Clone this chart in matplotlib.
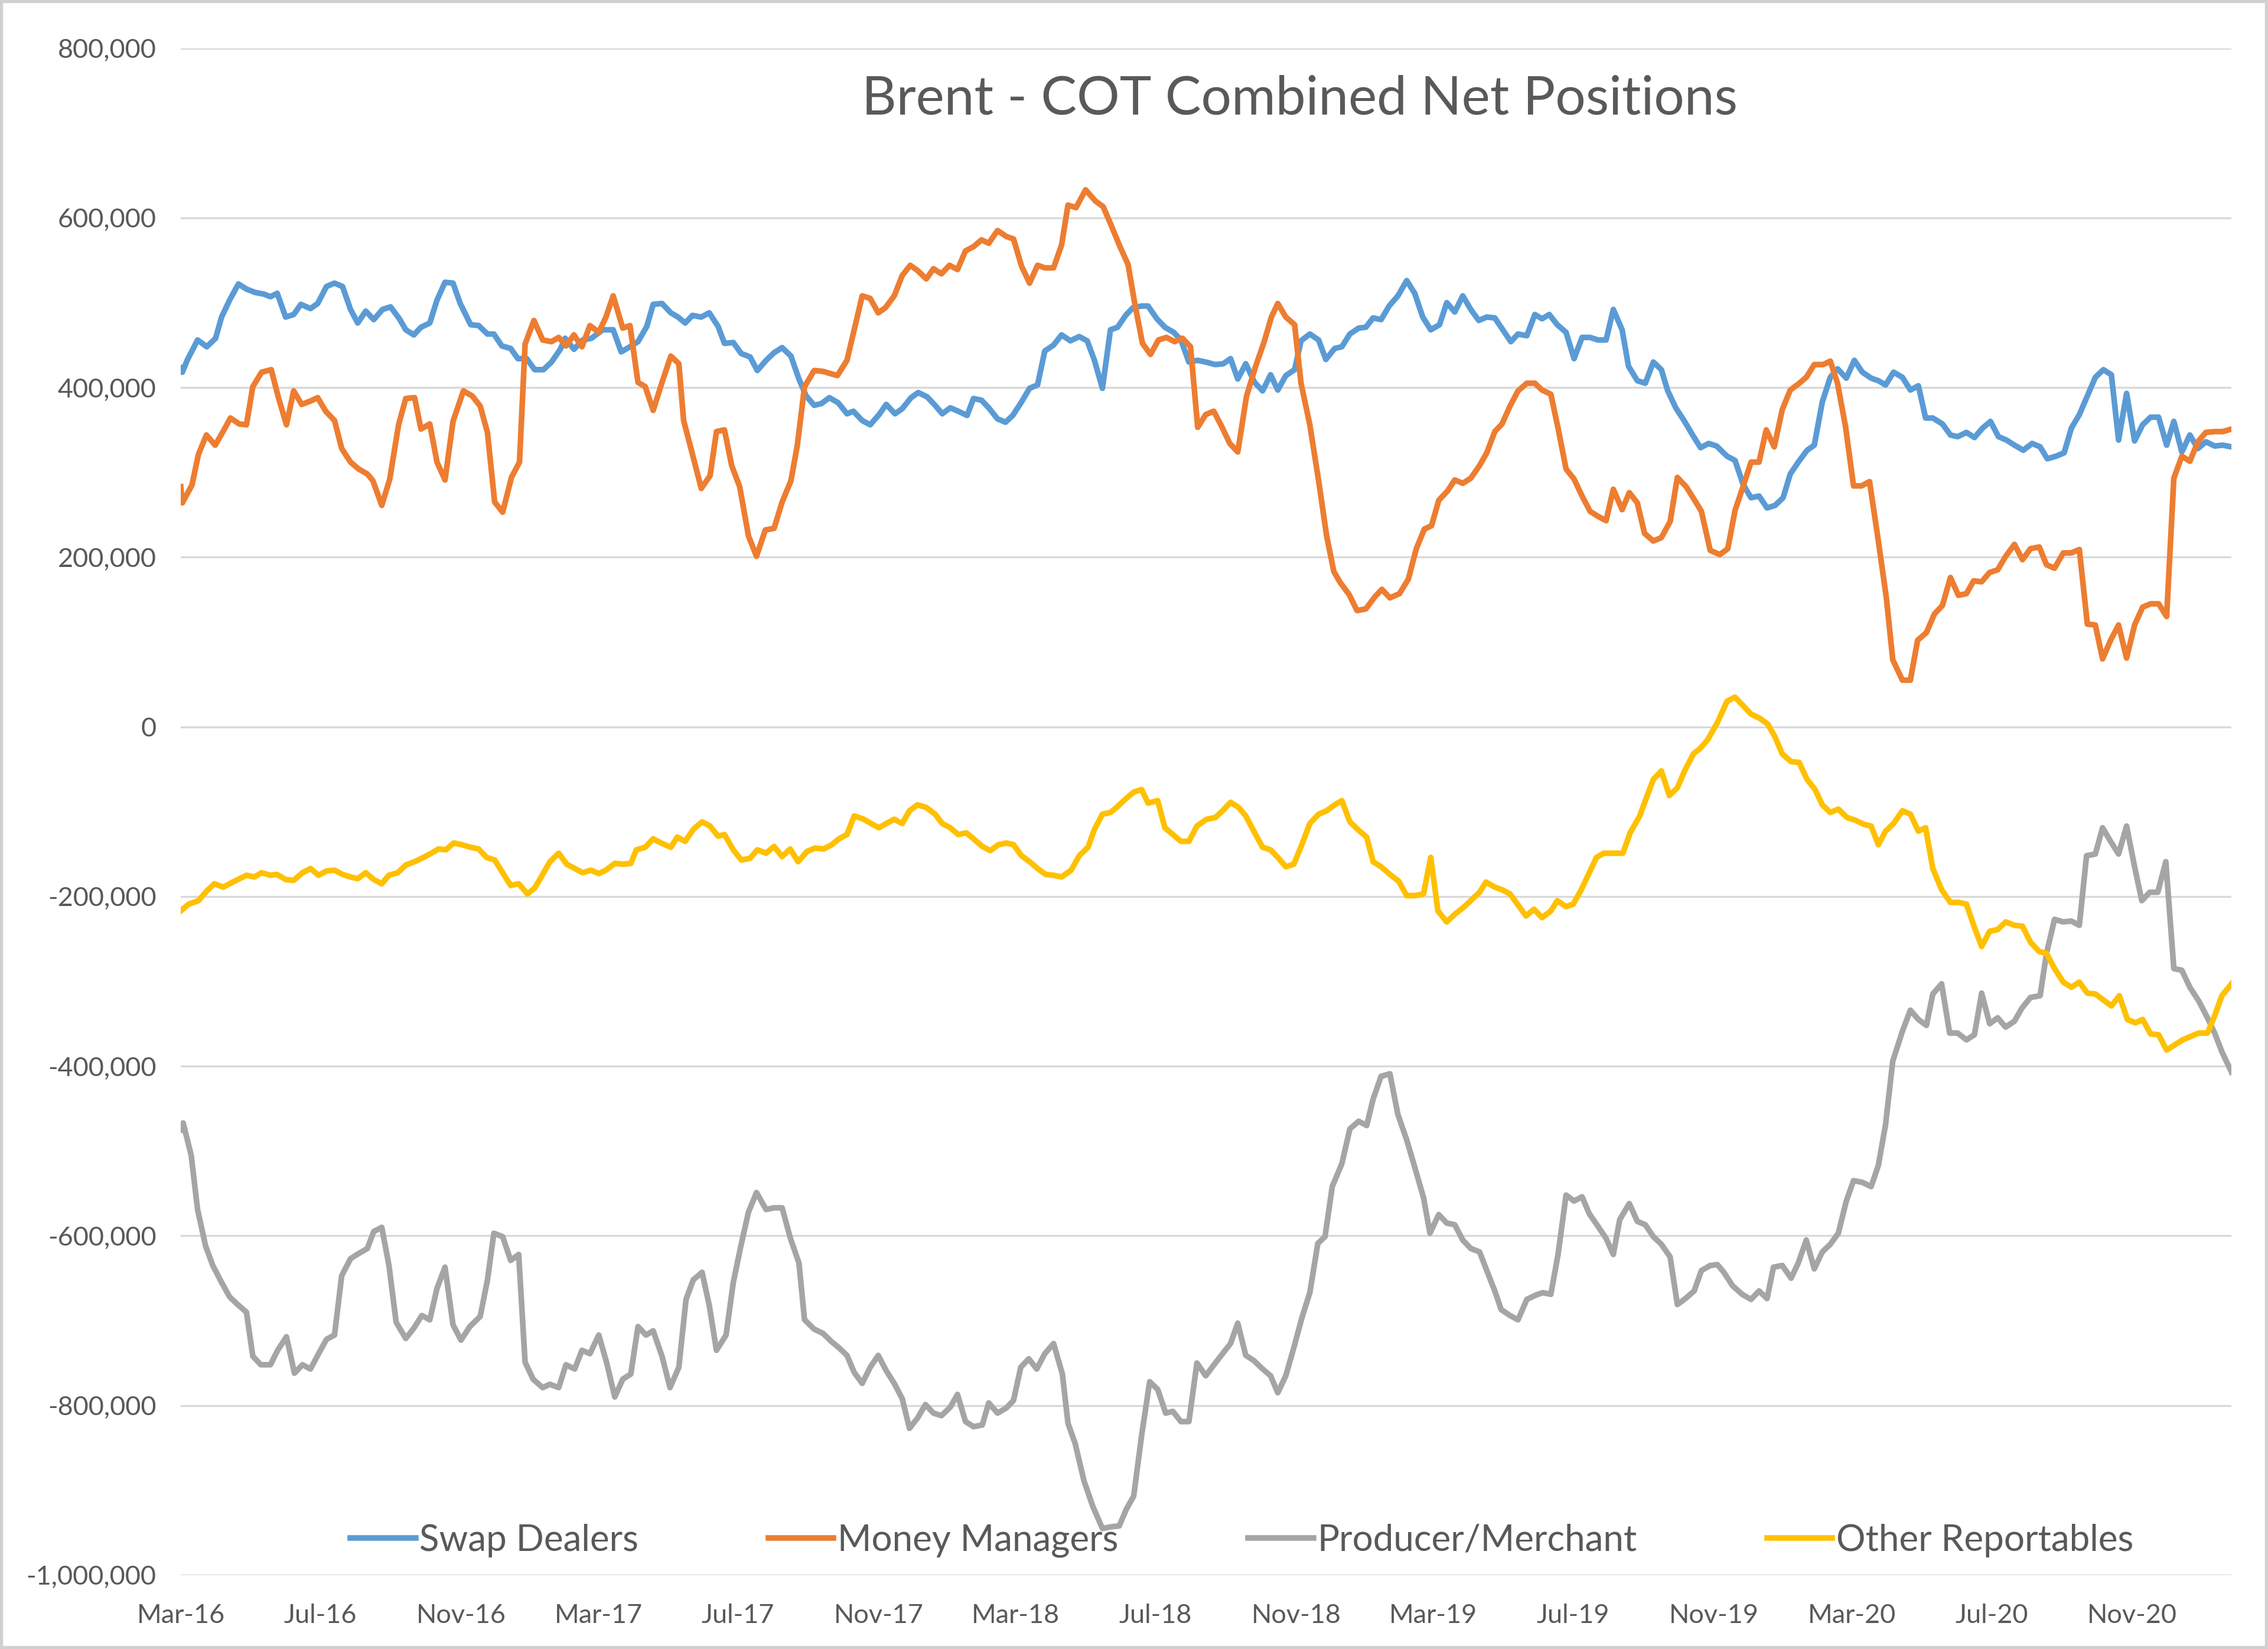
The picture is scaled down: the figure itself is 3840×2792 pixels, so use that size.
from datetime import datetime
import numpy as np
import matplotlib
matplotlib.use("Agg")
import matplotlib.pyplot as plt
import matplotlib.dates as mdates
from matplotlib.ticker import FuncFormatter, MultipleLocator
from matplotlib.patches import Rectangle

plt.rcParams['font.family'] = ['Lato', 'DejaVu Sans']

# weekly COT data, first report 1 Mar 2016; x = weeks since then, y = contracts (thousands)
start = datetime(2016, 3, 1)

swap_wk = [0, 0.2, 0.8, 2.1, 3.25, 4.35, 5.1, 6.1, 7.2, 8.2, 9.3, 10.4, 11.2, 12.05, 13.1, 14.1, 15.0, 16.2, 17.1, 18.2,
           19.2, 20.2, 21.2, 22.1, 23.1, 24.1, 25.2, 26.2, 27.3, 28.1, 29.1, 30.0, 31.1, 32.0, 33.0, 34.0, 34.9, 36.2,
           37.2, 38.3, 39.1, 40.1, 41.2, 42.1, 43.2, 44.2, 45.3, 46.3, 47.4, 48.0, 49.1, 50.2, 51.3, 52.7, 54.0, 55.0,
           56.1, 57.1, 58.2, 59.0, 60.1, 61.2, 62.1, 63.0, 63.9, 65.0, 66.0, 67.1, 67.9, 69.0, 70.0, 71.1, 72.0, 73.1,
           74.1, 75.1, 76.2, 77.2, 78.1, 79.1, 80.0, 81.0, 82.1, 83.2, 84.0, 85.1, 86.1, 87.2, 88.1, 89.2, 90.1, 91.2,
           92.1, 93.2, 94.2, 95.1, 96.1, 97.1, 98.2, 99.0, 100.0, 100.9, 102.0, 103.0, 103.9, 105.0, 106.0, 107.0,
           107.9, 109.0, 110.0, 111.1, 112.2, 113.2, 114.1, 115.1, 116.1, 117.0, 118.0, 118.9, 120.0, 120.8, 121.9,
           122.9, 124.0, 124.9, 125.9, 127.0, 128.0, 129.2, 130.2, 131.1, 132.0, 133.0, 134.1, 135.1, 136.1, 137.0,
           138.0, 139.1, 139.9, 141.0, 142.1, 143.0, 144.1, 145.0, 146.0, 147.1, 148.0, 148.9, 149.9, 150.9, 152.0,
           153.1, 154.1, 155.1, 156.1, 157.2, 158.1, 159.1, 160.1, 161.1, 162.1, 163.1, 164.1, 165.1, 166.1, 167.0,
           168.1, 169.1, 170.0, 170.9, 171.9, 173.0, 174.0, 175.0, 176.0, 177.0, 178.0, 178.9, 180.0, 180.8, 181.9,
           182.9, 183.9, 184.9, 185.7, 186.7, 187.8, 188.8, 189.8, 190.8, 191.8, 193.1, 194.1, 195.1, 196.1, 197.1,
           198.1, 199.1, 200.1, 201.0, 202.0, 203.1, 204.0, 205.0, 206.0, 206.9, 208.0, 209.0, 210.0, 211.1, 212.0,
           212.9, 213.9, 215.0, 216.0, 217.0, 217.9, 218.8, 220.0, 221.0, 221.9, 223.0, 224.0, 225.0, 226.0, 227.0,
           228.0, 229.0, 230.1, 231.2, 232.2, 233.1, 234.2, 235.2, 236.1, 237.1, 238.1, 239.1, 240.1, 241.1, 242.0,
           243.0, 244.0, 245.0, 246.0, 247.0, 248.0, 248.9, 249.9, 250.9, 251.9, 252.9, 254.0, 255.0, 256.1]
swap_val = [423, 418, 432, 456, 448, 458, 483, 503, 522, 516, 512, 510, 507, 511, 483, 486, 498, 493, 499, 519,
            523, 519, 492, 476, 490, 480, 492, 495, 481, 468, 462, 471, 476, 503, 524, 523, 499, 474,
            473, 463, 463, 449, 446, 434, 434, 421, 421, 430, 445, 458, 445, 456, 458, 468, 468, 442,
            448, 454, 472, 498, 499, 488, 483, 476, 485, 483, 488, 472, 452, 453, 440, 436, 420, 432,
            441, 447, 437, 410, 390, 379, 381, 388, 382, 369, 372, 361, 356, 368, 380, 369, 375, 388,
            394, 389, 379, 369, 376, 372, 367, 387, 385, 376, 363, 359, 367, 383, 399, 403,
            443, 450, 462, 455, 460, 455, 432, 399, 468, 471, 485, 494, 496, 496, 481,
            471, 465, 456, 430, 432, 430, 427, 428, 434, 410, 428, 406, 396, 415, 397,
            414, 421, 455, 463, 456, 433, 446, 448, 463, 470, 471, 482, 480, 496, 508,
            526, 511, 483, 468, 474, 500, 489, 508, 492, 479, 483, 482, 468, 454, 463,
            461, 486, 481, 486, 474, 465, 434, 459, 459, 456, 456, 492, 468, 425, 408,
            405, 430, 421, 396, 376, 360, 344, 329, 334, 331, 319, 314, 286, 270, 272,
            258, 261, 270, 298, 312, 326, 332, 383, 412, 422, 411, 432, 418, 411, 408,
            403, 418, 412, 397, 402, 364, 364, 357, 344, 342, 347, 341, 352, 360, 342,
            338, 332, 326, 334, 330, 316, 319, 323, 352, 368, 390, 412, 421, 415, 338,
            393, 337, 356, 365, 365, 332, 360, 324, 344, 328, 336, 331, 332, 330]

mm_wk = [0, 0.2, 1.4, 2.2, 3.2, 4.3, 5.4, 6.2, 7.3, 8.2, 9.0, 10.1, 11.3, 12.2, 13.2, 14.1, 15.1, 16.2, 17.1, 18.1,
         19.2, 20.1, 21.2, 22.2, 23.3, 24.0, 25.1, 26.1, 27.2, 28.1, 29.2, 30.0, 31.1, 32.0, 33.0, 34.0, 35.3, 36.4,
         37.4, 38.3, 39.2, 40.2, 41.3, 42.3, 43.0, 44.1, 45.2, 46.3, 47.2, 48.1, 49.1, 50.1, 51.1, 52.2, 53.1, 54.0,
         55.2, 56.1, 57.1, 58.0, 59.0, 60.1, 61.2, 62.2, 62.8, 63.8, 65.0, 66.1, 66.9, 67.9, 68.8, 69.8, 70.9, 71.9,
         73.0, 74.1, 75.1, 76.2, 77.0, 77.9, 79.1, 80.2, 82.0, 83.2, 84.1, 85.1, 86.1, 87.1, 88.0, 89.1, 90.1, 91.1,
         92.0, 93.1, 94.0, 95.0, 96.0, 97.0, 98.0, 99.0, 100.0, 100.9, 102.0, 103.1, 104.0, 105.0, 106.0, 107.0,
         107.9, 109.0, 110.0, 110.8, 111.8, 113.0, 114.2, 115.2, 116.2, 117.2, 118.3, 119.1, 120.1, 121.1, 122.1,
         123.1, 124.1, 125.1, 126.1, 127.0, 128.0, 129.0, 130.0, 131.0, 132.0, 133.1, 134.2, 135.3, 136.2, 137.0,
         138.0, 139.1, 139.9, 141.0, 142.1, 143.1, 144.0, 144.8, 145.9, 146.9, 148.0, 149.1, 150.0, 151.0, 152.2,
         153.3, 154.3, 155.3, 156.2, 157.1, 158.2, 159.1, 160.1, 161.1, 162.2, 163.1, 164.1, 165.0, 166.0, 167.0,
         168.1, 169.1, 170.0, 171.1, 172.0, 173.0, 174.0, 175.0, 176.0, 177.0, 178.0, 178.9, 180.0, 180.9, 181.9,
         182.8, 183.9, 184.9, 186.0, 186.9, 188.0, 189.0, 189.9, 191.0, 192.2, 193.2, 194.1, 195.1, 196.1, 197.1,
         198.0, 199.0, 200.0, 201.0, 202.0, 203.0, 204.0, 205.1, 206.0, 206.9, 207.9, 208.9, 209.9, 210.9, 212.0,
         213.0, 213.8, 215.0, 216.0, 216.9, 218.0, 219.0, 220.0, 221.0, 222.0, 223.0, 223.9, 224.9, 225.9, 226.9,
         227.9, 229.0, 230.0, 231.0, 232.1, 233.0, 234.0, 235.1, 236.1, 237.1, 238.1, 239.1, 240.0, 241.0, 242.0,
         243.0, 244.0, 245.0, 246.0, 247.0, 248.0, 248.9, 249.9, 250.9, 251.9, 252.9, 254.0, 255.0, 256.1]
mm_val = [283, 264, 285, 321, 344, 332, 350, 364, 357, 356, 401, 418, 421, 388, 356, 396, 380, 384, 388, 372,
          361, 328, 312, 304, 298, 290, 261, 292, 356, 387, 388, 351, 357, 312, 291, 360, 396, 390,
          378, 347, 265, 253, 294, 312, 451, 479, 456, 454, 459, 449, 462, 448, 473, 465, 483, 508,
          470, 473, 406, 401, 373, 406, 437, 428, 361, 325, 281, 296, 348, 350, 308, 283, 225, 201,
          232, 234, 265, 290, 332, 401, 420, 419, 414, 432, 468, 508, 505, 488, 494, 508, 532, 544,
          538, 528, 540, 534, 544, 539, 561, 566, 574, 570, 585, 578, 575, 543, 523, 544,
          541, 541, 568, 615, 612, 633, 620, 613, 591, 568, 545, 501, 452, 439, 456,
          459, 454, 458, 448, 353, 368, 372, 354, 334, 324, 390, 424, 454, 483, 499,
          483, 474, 405, 356, 290, 225, 183, 170, 156, 137, 139, 153, 162, 152, 157,
          174, 210, 233, 237, 267, 278, 291, 287, 293, 308, 323, 348, 357, 378, 396,
          405, 405, 397, 392, 352, 304, 292, 272, 254, 248, 243, 280, 256, 276, 264,
          228, 219, 223, 242, 294, 283, 268, 254, 208, 203, 210, 255, 283, 312, 312,
          350, 330, 374, 397, 404, 412, 427, 427, 431, 405, 354, 284, 284, 289, 219,
          152, 79, 55, 55, 102, 111, 133, 143, 176, 155, 157, 172, 171, 182, 185,
          201, 215, 197, 210, 212, 191, 187, 205, 205, 209, 121, 120, 80, 102, 120,
          81, 120, 141, 145, 145, 130, 293, 319, 313, 336, 347, 348, 348, 351]

prod_wk = [0, 0.3, 1.3, 2.1, 3.1, 4.0, 5.1, 6.1, 7.1, 8.2, 9.0, 10.0, 11.2, 12.1, 13.2, 14.2, 15.2, 16.2, 17.1, 18.2,
           19.2, 20.1, 21.2, 22.2, 23.3, 24.1, 25.1, 26.0, 26.9, 28.1, 29.1, 30.1, 31.1, 32.0, 33.0, 34.0, 35.0, 36.1,
           37.4, 38.3, 39.1, 40.2, 41.2, 42.2, 43.0, 44.0, 45.2, 46.1, 47.2, 48.1, 49.2, 50.1, 51.1, 52.2, 53.2, 54.2,
           55.2, 56.2, 57.1, 58.1, 59.0, 60.1, 61.1, 62.2, 63.1, 64.0, 65.1, 66.0, 66.9, 68.1, 69.0, 69.9, 70.9, 71.9,
           73.1, 74.1, 75.1, 76.1, 77.2, 77.9, 79.1, 80.2, 81.3, 82.2, 83.2, 84.1, 85.1, 86.1, 87.1, 88.1, 89.1, 90.1,
           91.0, 92.0, 93.0, 94.0, 95.0, 96.1, 97.0, 98.0, 99.0, 100.1, 100.9, 102.0, 103.1, 104.0, 104.9, 105.9,
           106.9, 107.9, 109.0, 110.1, 110.8, 111.7, 112.8, 113.9, 115.1, 116.2, 117.2, 118.1, 119.0, 120.0, 121.0,
           122.0, 123.0, 123.9, 124.9, 125.9, 126.9, 128.0, 129.2, 130.1, 131.1, 132.0, 133.0, 134.0, 135.1, 136.1,
           137.0, 138.0, 139.0, 140.0, 141.0, 142.0, 142.9, 143.8, 145.0, 146.0, 147.1, 148.1, 148.9, 149.9, 151.0,
           152.0, 153.1, 154.1, 155.2, 156.0, 157.1, 158.1, 159.1, 160.1, 161.1, 162.2, 163.1, 164.1, 164.9, 166.0,
           167.0, 168.1, 169.2, 170.1, 171.1, 172.0, 173.0, 174.0, 175.0, 175.9, 177.0, 178.0, 178.9, 179.7, 180.9,
           181.9, 182.9, 183.9, 184.9, 186.0, 186.9, 187.9, 189.0, 189.9, 191.0, 191.9, 192.7, 193.8, 195.0, 196.1,
           197.1, 198.1, 198.9, 200.0, 201.1, 202.0, 203.0, 204.0, 205.0, 206.0, 207.0, 208.0, 208.9, 210.0, 211.1,
           212.0, 212.9, 213.8, 215.0, 216.0, 217.0, 218.0, 218.8, 219.9, 220.9, 221.9, 223.0, 224.0, 224.9, 225.9,
           226.9, 227.9, 229.0, 229.9, 231.0, 232.2, 233.0, 234.0, 235.1, 236.1, 237.1, 238.0, 239.1, 240.0, 241.0,
           242.0, 243.0, 244.0, 244.9, 245.9, 246.9, 247.9, 248.9, 249.9, 250.9, 252.0, 253.1, 254.0, 254.9, 256.1]
prod_val = [-475, -467, -505, -569, -612, -635, -655, -672, -681, -690, -742, -752, -752, -735, -719, -762, -752, -757, -741, -722,
            -717, -647, -627, -621, -615, -595, -590, -635, -702, -721, -709, -694, -699, -662, -637, -705, -723, -707,
            -695, -652, -597, -601, -629, -622, -749, -769, -779, -775, -779, -752, -757, -735, -739, -717, -750, -790,
            -769, -763, -707, -717, -712, -742, -779, -755, -675, -652, -643, -682, -735, -717, -655, -614, -572, -549,
            -569, -567, -567, -602, -632, -699, -710, -715, -725, -732, -741, -761, -774, -755, -741, -759, -774, -792,
            -827, -815, -799, -809, -812, -802, -787, -819, -825, -823, -797, -809, -803, -794, -755, -745,
            -757, -739, -727, -763, -821, -845, -889, -919, -945, -943, -942, -922, -907, -835, -772,
            -781, -809, -807, -819, -819, -750, -765, -750, -739, -727, -703, -741, -747, -757, -765,
            -785, -765, -732, -697, -667, -609, -601, -542, -515, -474, -465, -470, -439, -412, -409,
            -457, -487, -519, -555, -597, -575, -585, -587, -605, -615, -619, -641, -665, -687, -694,
            -699, -675, -670, -667, -669, -622, -552, -559, -554, -574, -589, -603, -622, -581, -562,
            -583, -587, -601, -610, -625, -681, -674, -665, -641, -635, -634, -643, -659, -669, -675,
            -665, -674, -637, -635, -650, -632, -605, -639, -619, -610, -597, -559, -535, -537, -542,
            -517, -469, -394, -359, -334, -345, -352, -315, -303, -361, -361, -369, -363, -314, -350,
            -343, -354, -347, -332, -319, -317, -267, -227, -230, -229, -234, -152, -150, -119, -135,
            -150, -117, -165, -205, -195, -195, -159, -285, -287, -307, -323, -343, -361, -383, -407]

oth_wk = [0, 1.0, 2.2, 3.2, 4.2, 5.3, 6.5, 8.2, 9.2, 10.1, 11.2, 12.0, 13.1, 14.1, 15.2, 16.2, 17.2, 18.2, 19.2, 20.2,
          21.2, 22.1, 23.1, 24.1, 25.1, 26.0, 27.1, 28.1, 29.2, 30.3, 31.1, 32.2, 33.1, 34.1, 35.1, 36.2, 37.2, 38.2,
          39.2, 40.2, 41.2, 42.2, 43.3, 44.2, 45.2, 46.1, 47.2, 48.2, 49.2, 50.2, 51.2, 52.2, 53.1, 54.2, 55.2, 56.2,
          56.9, 58.0, 59.0, 60.0, 61.2, 62.0, 63.0, 64.0, 65.1, 66.1, 67.1, 67.9, 69.0, 70.0, 71.1, 72.0, 73.1, 74.1,
          75.1, 76.1, 77.1, 78.2, 79.2, 80.3, 81.3, 82.2, 83.2, 84.1, 85.3, 86.2, 87.2, 88.1, 89.1, 90.1, 91.0, 92.0,
          93.1, 94.2, 95.1, 96.1, 97.1, 98.1, 99.0, 100.1, 101.1, 102.1, 103.1, 104.0, 105.0, 106.0, 107.0, 108.0,
          109.0, 110.0, 111.2, 112.2, 113.3, 114.1, 115.1, 116.1, 117.0, 118.0, 119.0, 120.0, 120.8, 122.0, 122.9,
          123.9, 124.9, 125.9, 126.9, 128.1, 129.2, 130.1, 131.1, 132.1, 133.0, 134.0, 135.1, 136.1, 137.1, 138.0,
          139.0, 140.0, 141.0, 142.1, 143.1, 144.1, 145.0, 146.0, 147.1, 148.1, 148.9, 149.9, 151.0, 152.1, 153.1,
          154.1, 155.2, 156.1, 157.0, 158.1, 159.1, 160.3, 161.3, 162.2, 163.0, 164.1, 165.0, 166.0, 167.0, 168.0,
          169.0, 170.0, 171.1, 171.9, 173.0, 173.9, 174.9, 175.8, 176.8, 177.7, 178.9, 180.1, 181.0, 182.2, 183.1,
          183.9, 184.9, 185.9, 186.9, 187.8, 188.9, 189.8, 190.7, 191.9, 193.1, 194.1, 195.1, 196.1, 197.2, 198.2,
          199.1, 200.0, 201.1, 202.1, 203.1, 204.1, 205.0, 206.0, 207.0, 208.1, 209.1, 210.2, 211.1, 212.0, 212.9,
          213.9, 215.0, 216.0, 217.0, 217.9, 218.8, 219.9, 221.0, 222.0, 223.0, 223.9, 224.9, 225.9, 226.9, 227.9,
          229.0, 230.0, 231.0, 232.1, 233.0, 234.0, 235.1, 236.1, 237.1, 238.1, 239.1, 240.1, 241.1, 242.1, 243.1,
          244.1, 245.0, 246.0, 247.0, 248.0, 249.0, 250.0, 251.0, 252.0, 253.1, 253.9, 254.9, 256.1]
oth_val = [-217, -209, -205, -194, -185, -189, -183, -175, -177, -172, -175, -174, -180, -181, -172, -167, -175, -170, -169, -174,
           -177, -179, -172, -180, -185, -175, -172, -163, -159, -154, -150, -144, -145, -137, -139, -142, -144, -154,
           -157, -172, -187, -185, -197, -190, -174, -159, -149, -162, -167, -172, -169, -173, -169, -161, -162, -161,
           -145, -142, -132, -137, -142, -130, -135, -121, -112, -117, -129, -127, -145, -157, -155, -145, -149, -141,
           -153, -144, -159, -147, -143, -144, -139, -132, -127, -105, -109, -114, -119, -114, -109, -114, -99, -92,
           -95, -103, -114, -119, -127, -125, -132, -141, -146, -139, -137, -139, -152, -159, -167, -174,
           -175, -177, -169, -152, -142, -121, -103, -101, -94, -85, -77, -74, -90, -87, -119,
           -127, -135, -135, -117, -109, -107, -99, -89, -95, -105, -123, -142, -145, -155, -165,
           -162, -139, -114, -103, -99, -92, -87, -112, -122, -130, -159, -165, -174, -182, -199,
           -199, -197, -154, -217, -230, -221, -212, -203, -195, -183, -189, -192, -197, -210, -223,
           -215, -225, -217, -205, -212, -209, -192, -174, -154, -149, -149, -149, -125, -105, -82,
           -62, -52, -81, -72, -52, -32, -25, -15, 5, 30, 35, 25, 15, 10, 3,
           -12, -32, -41, -42, -62, -74, -92, -101, -97, -107, -110, -115, -117, -139, -123,
           -114, -99, -103, -123, -119, -167, -192, -207, -207, -209, -234, -259, -241, -239, -230,
           -234, -235, -254, -265, -267, -285, -301, -307, -301, -314, -315, -322, -329, -317, -345,
           -349, -345, -362, -363, -381, -375, -369, -365, -361, -361, -343, -317, -303]

series_names = ['Swap Dealers', 'Money Managers', 'Producer/Merchant', 'Other Reportables']
series_colors = ['#5B9BD5', '#ED7D31', '#A5A5A5', '#FFC000']

fig = plt.figure(figsize=(12.8, 9.3067), dpi=300)
ax = fig.add_axes([0.0797, 0.0448, 0.9042, 0.926])

x0 = mdates.date2num(start)
lines = []
for wk, val, name, col in zip([swap_wk, mm_wk, prod_wk, oth_wk],
                              [swap_val, mm_val, prod_val, oth_val],
                              series_names, series_colors):
    xs = x0 + 7 * np.array(wk)
    ys = np.array(val) * 1000
    ln, = ax.plot(xs, ys, color=col, lw=2.3, label=name, solid_joinstyle='round')
    lines.append(ln)

ax.set_xlim(x0, x0 + 7 * 256.1)
ax.set_ylim(-1000000, 800000)
ax.yaxis.set_major_locator(MultipleLocator(200000))
ax.yaxis.set_major_formatter(FuncFormatter(lambda v, p: f'{v:,.0f}'))
ax.xaxis.set_major_locator(mdates.MonthLocator(bymonth=[3, 7, 11]))
ax.xaxis.set_major_formatter(mdates.DateFormatter('%b-%y'))

ax.grid(axis='y', color='#D9D9D9', lw=0.8)
ax.set_axisbelow(True)
for s in ax.spines.values():
    s.set_visible(False)
ax.tick_params(axis='both', length=0, labelsize=10.8, colors='#595959')
ax.tick_params(axis='y', pad=10)
ax.tick_params(axis='x', pad=11.5)

fig.text(0.573, 0.940, 'Brent - COT Combined Net Positions', ha='center', va='center',
         fontsize=21.8, color='#595959')

fig.legend(lines, series_names, loc='center', bbox_to_anchor=(0.5475, 0.0658), ncol=4,
           frameon=False, fontsize=14.9, handlelength=1.78, handletextpad=0.1, columnspacing=3.55,
           labelcolor='#595959')

fig.patches.append(Rectangle((0, 0), 1, 1, transform=fig.transFigure, fill=False,
                             edgecolor='#D0D0D0', lw=2.5))

fig.savefig('out.png', dpi=300, facecolor='white')
